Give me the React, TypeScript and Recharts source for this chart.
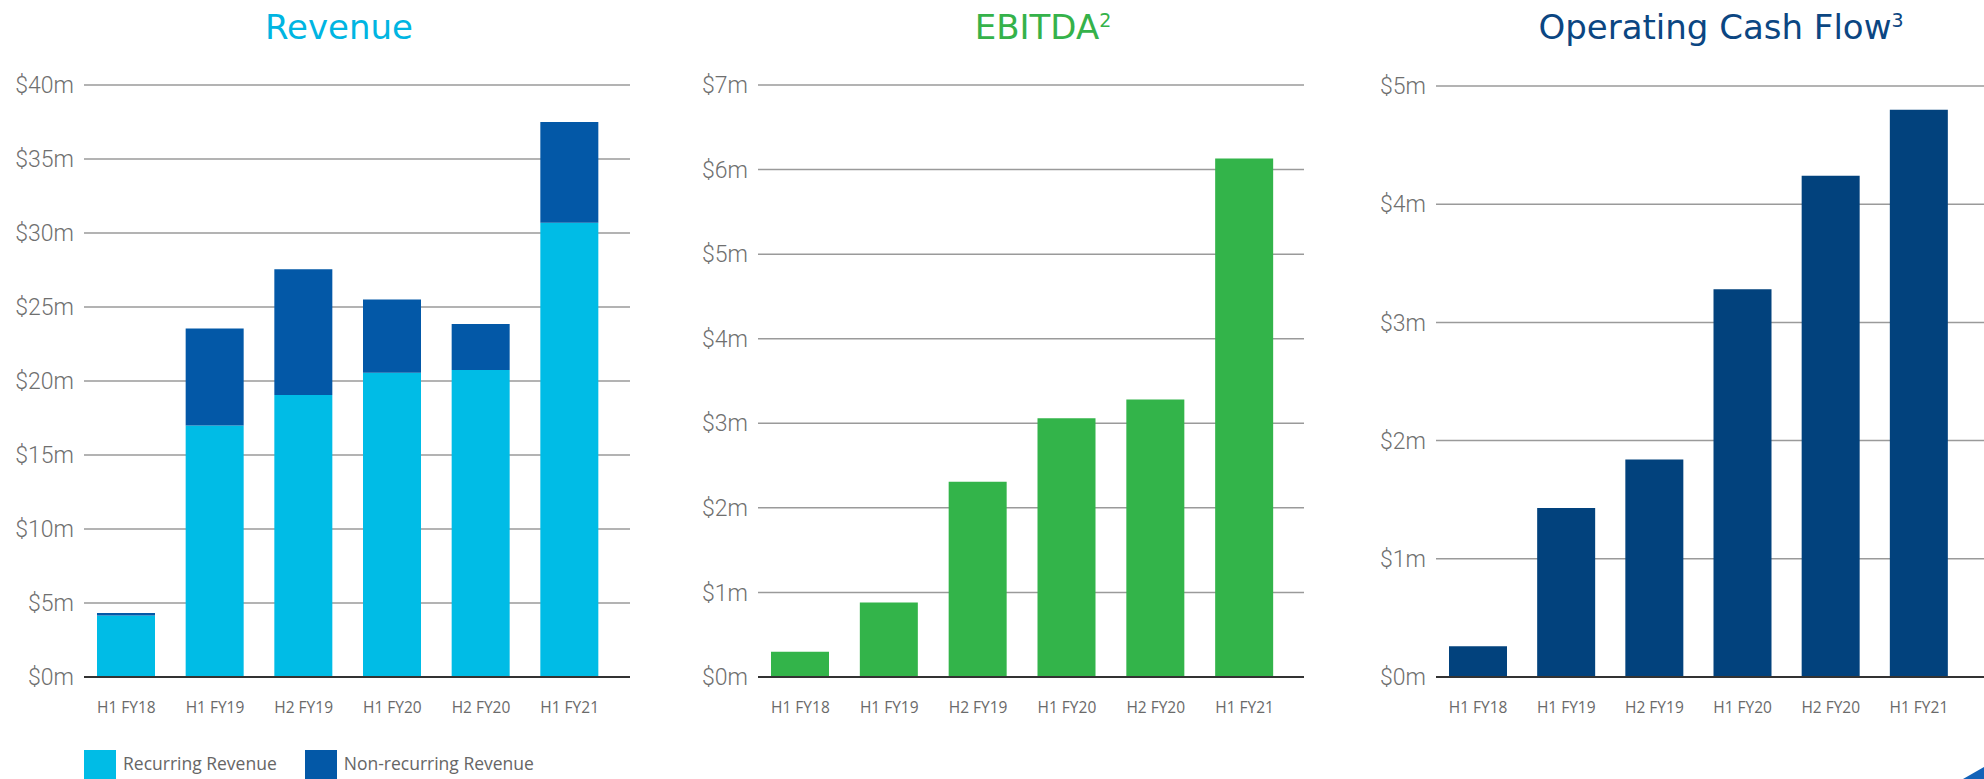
import { Bar, BarChart, CartesianGrid, Legend, XAxis, YAxis } from 'recharts';

const periods = ['H1 FY18', 'H1 FY19', 'H2 FY19', 'H1 FY20', 'H2 FY20', 'H1 FY21'];
const recurringRevenue = [4.15, 17.0, 19.05, 20.55, 20.75, 30.7];
const nonRecurringRevenue = [0.17, 6.55, 8.5, 4.95, 3.1, 6.8];
const ebitda = [0.3, 0.88, 2.31, 3.06, 3.28, 6.13];
const operatingCashFlow = [0.26, 1.43, 1.84, 3.28, 4.24, 4.8];

const revenueTicks = [0, 5, 10, 15, 20, 25, 30, 35, 40];
const ebitdaTicks = [0, 1, 2, 3, 4, 5, 6, 7];
const cashFlowTicks = [0, 1, 2, 3, 4, 5];
const legendOrder = ['Recurring Revenue', 'Non-recurring Revenue'];

const revenueData = periods.map((period, i) => ({
  period,
  recurring: recurringRevenue[i],
  nonRecurring: nonRecurringRevenue[i],
}));
const ebitdaData = periods.map((period, i) => ({ period, value: ebitda[i] }));
const cashFlowData = periods.map((period, i) => ({ period, value: operatingCashFlow[i] }));

const CHART_H = 779;
const money = (v: number) => `$${v}m`;
const yTick = { fill: '#6f6f6f', fontSize: 23, fontFamily: 'Roboto', fontWeight: 300 };
const xTick = { fill: '#6a6a6a', fontSize: 15.5, fontFamily: '"Open Sans"' };
const titleFont = '"DejaVu Sans"';

function Title({ center, color, text, sup }: { center: number; color: string; text: string; sup?: string }) {
  return (
    <div
      style={{
        position: 'absolute',
        left: center - 250,
        width: 500,
        top: 10,
        textAlign: 'center',
        fontFamily: titleFont,
        fontWeight: 400,
        fontSize: 34,
        lineHeight: '34px',
        color,
        whiteSpace: 'nowrap',
      }}
    >
      {text}
      {sup && <span style={{ fontSize: 19, position: 'relative', top: -12 }}>{sup}</span>}
    </div>
  );
}

function renderLegend(props: any) {
  const items = [...(props.payload || [])].sort(
    (a: any, b: any) => legendOrder.indexOf(a.value) - legendOrder.indexOf(b.value),
  );
  return (
    <div style={{ display: 'flex', alignItems: 'flex-start' }}>
      {items.map((entry: any) => (
        <div key={entry.value} style={{ display: 'flex', alignItems: 'flex-start', marginRight: 28 }}>
          <span style={{ width: 32, height: 32, background: entry.color, display: 'inline-block' }} />
          <span
            style={{
              marginLeft: 7,
              marginTop: 2.5,
              lineHeight: '20px',
              fontSize: 17.5,
              fontFamily: '"Open Sans"',
              color: '#666',
              whiteSpace: 'nowrap',
            }}
          >
            {entry.value}
          </span>
        </div>
      ))}
    </div>
  );
}

function axes(ticks: number[], yWidth: number, padRight: number) {
  return [
    <CartesianGrid key="g" vertical={false} stroke="#9a9a9a" strokeWidth={1.5} />,
    <XAxis
      key="x"
      dataKey="period"
      tickLine={false}
      axisLine={{ stroke: '#333', strokeWidth: 2 }}
      tick={xTick}
      tickMargin={19}
      padding={{ left: -2, right: padRight }}
      interval={0}
    />,
    <YAxis
      key="y"
      width={yWidth}
      domain={[0, ticks[ticks.length - 1]]}
      ticks={ticks}
      tickFormatter={money}
      axisLine={false}
      tickLine={false}
      tick={yTick}
      tickMargin={4}
    />,
  ];
}

export default function App() {
  return (
    <div
      style={{
        position: 'absolute',
        left: 0,
        top: 0,
        width: 1984,
        height: CHART_H,
        overflow: 'hidden',
        background: '#fff',
      }}
    >
      <Title center={339} color="#00b5e2" text="Revenue" />
      <Title center={1043} color="#35b24a" text="EBITDA" sup="2" />
      <Title center={1721} color="#0b4682" text="Operating Cash Flow" sup="3" />

      <div style={{ position: 'absolute', left: 0, top: 0 }}>
        <BarChart width={650} height={CHART_H} data={revenueData} margin={{ top: 85, right: 20, bottom: 72, left: 0 }}>
          {axes(revenueTicks, 84, 16)}
          <Legend
            layout="horizontal"
            verticalAlign="middle"
            align="center"
            content={renderLegend}
            wrapperStyle={{ left: 84, top: 750, width: 'auto', height: 'auto' }}
          />
          <Bar dataKey="recurring" name="Recurring Revenue" stackId="rev" fill="#00bce6" barSize={58} isAnimationActive={false} />
          <Bar dataKey="nonRecurring" name="Non-recurring Revenue" stackId="rev" fill="#0358a7" barSize={58} isAnimationActive={false} />
        </BarChart>
      </div>

      <div style={{ position: 'absolute', left: 660, top: 0 }}>
        <BarChart width={660} height={CHART_H} data={ebitdaData} margin={{ top: 85, right: 16, bottom: 72, left: 0 }}>
          {axes(ebitdaTicks, 98, 15)}
          <Bar dataKey="value" name="EBITDA" fill="#33b44a" barSize={58} isAnimationActive={false} />
        </BarChart>
      </div>

      <div style={{ position: 'absolute', left: 1330, top: 0 }}>
        <BarChart width={654} height={CHART_H} data={cashFlowData} margin={{ top: 86, right: 0, bottom: 72, left: 0 }}>
          {axes(cashFlowTicks, 106, 21)}
          <Bar dataKey="value" name="Operating Cash Flow" fill="#02427d" barSize={58} isAnimationActive={false} />
        </BarChart>
      </div>

      <svg style={{ position: 'absolute', left: 1960, top: 764 }} width={24} height={15}>
        <polygon points="3,15 24,3 24,15" fill="#1262b8" />
      </svg>
    </div>
  );
}
